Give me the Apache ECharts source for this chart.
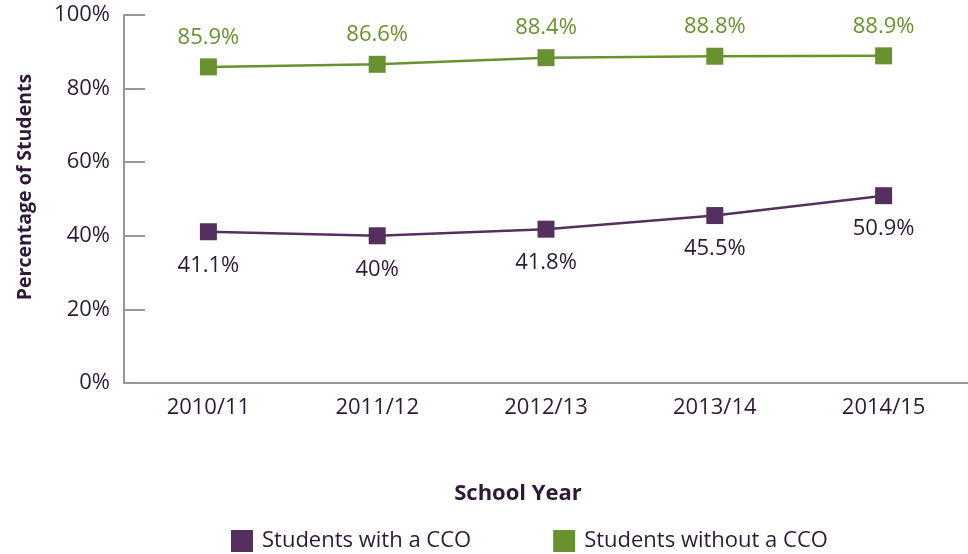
<!DOCTYPE html>
<html><head><meta charset="utf-8">
<script src="https://cdn.jsdelivr.net/npm/echarts@6/dist/echarts.min.js"></script>
<style>html,body{margin:0;padding:0;background:#fff}#c{width:968px;height:554px}</style>
</head><body><div id="c"></div>
<script>
const categories = ['2010/11','2011/12','2012/13','2013/14','2014/15'];
const withCCO = [41.1, 40, 41.8, 45.5, 50.9];
const withoutCCO = [85.9, 86.6, 88.4, 88.8, 88.9];
const seriesNames = ['Students with a CCO','Students without a CCO'];
const yTicks = [0,20,40,60,80,100];

const FONT = '"Open Sans", "Noto Sans", sans-serif';
const PURPLE = '#55305f', GREEN = '#6a9130', TXT = '#2e1a36', AX = '#9f90a3';
const chart = echarts.init(document.getElementById('c'));
chart.setOption({
  animation:false,
  textStyle:{fontFamily:FONT},
  grid:{left:124,right:0,top:15,bottom:171,containLabel:false},
  legend:{bottom:-3,left:226,itemWidth:22,itemHeight:22,itemGap:82,icon:'rect',
    textStyle:{fontFamily:FONT,fontSize:22,color:TXT,padding:[0,0,0,4]},data:seriesNames},
  xAxis:{type:'category',data:categories,boundaryGap:true,
    name:'School Year',nameLocation:'middle',nameGap:100,
    nameTextStyle:{fontFamily:FONT,fontSize:22,fontWeight:'bold',color:TXT,padding:[0,56,0,0]},
    axisLine:{lineStyle:{color:AX,width:2}},
    axisTick:{inside:true,length:9,lineStyle:{color:AX,width:1.5}},
    axisLabel:{fontFamily:FONT,fontSize:22,color:TXT,margin:14}},
  yAxis:{type:'value',min:0,max:100,interval:20,
    name:'Percentage of Students',nameLocation:'middle',nameGap:89,
    nameTextStyle:{fontFamily:FONT,fontSize:19.5,fontWeight:'bold',color:TXT,padding:[0,0,0,24]},
    axisLine:{show:true,lineStyle:{color:AX,width:2}},
    axisTick:{show:true,inside:true,length:21,lineStyle:{color:AX,width:2}},
    splitLine:{show:false},
    axisLabel:{fontFamily:FONT,fontSize:22,color:TXT,margin:14,formatter:v=>yTicks.includes(v)?v+'%':''}},
  series:[
    {name:seriesNames[0],type:'line',data:withCCO,symbol:'rect',symbolSize:17,
      itemStyle:{color:PURPLE},lineStyle:{color:PURPLE,width:2.5},
      label:{show:true,position:'bottom',distance:14,formatter:p=>p.value+'%',fontFamily:FONT,fontSize:22,color:TXT}},
    {name:seriesNames[1],type:'line',data:withoutCCO,symbol:'rect',symbolSize:17,
      itemStyle:{color:GREEN},lineStyle:{color:GREEN,width:2.5},
      label:{show:true,position:'top',distance:10,formatter:p=>p.value+'%',fontFamily:FONT,fontSize:22,color:GREEN}}
  ]
});
</script></body></html>
